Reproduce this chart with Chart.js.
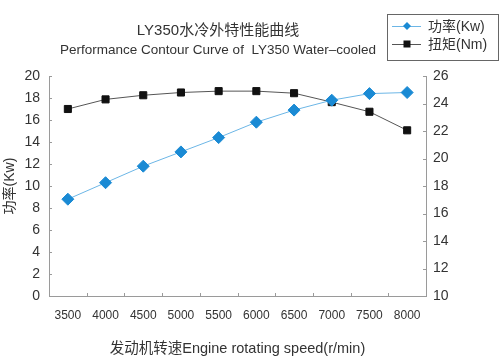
<!DOCTYPE html>
<html><head><meta charset="utf-8">
<script src="https://cdn.jsdelivr.net/npm/chart.js@4.4.1/dist/chart.umd.min.js"></script>
<style>html,body{margin:0;padding:0;background:#fff}canvas{display:block}</style>
</head><body>
<canvas id="c" width="502" height="362"></canvas>
<script>
const categories = ['3500','4000','4500','5000','5500','6000','6500','7000','7500','8000'];
const powerKw = [8.8, 10.3, 11.8, 13.1, 14.4, 15.8, 16.9, 17.8, 18.4, 18.5];
const torqueNm = [23.6, 24.3, 24.6, 24.8, 24.9, 24.9, 24.75, 24.1, 23.4, 22.05];
const titleLines = ['LY350水冷外特性能曲线', 'Performance Contour Curve of  LY350 Water\u2013cooled'];
const seriesNames = ['功率(Kw)', '扭矩(Nm)'];
const xTitle = '发动机转速Engine rotating speed(r/min)';
const yTitle = '功率(Kw)';

const FONT = '"Liberation Sans", Arial, "Noto Sans CJK SC", sans-serif';
const AXIS = '#9a9a9a';
const TXT = '#333';

const deco = {
  id: 'deco',
  afterDraw(chart) {
    const ctx = chart.ctx;
    const ca = chart.chartArea;
    const x = chart.scales.x, y = chart.scales.y, y1 = chart.scales.y1;
    ctx.save();
    // inward tick marks
    ctx.strokeStyle = AXIS; ctx.lineWidth = 1;
    ctx.beginPath();
    y.ticks.forEach(t => { const p = Math.round(y.getPixelForValue(t.value)) + 0.5; ctx.moveTo(ca.left, p); ctx.lineTo(ca.left + 3, p); });
    y1.ticks.forEach(t => { const p = Math.round(y1.getPixelForValue(t.value)) + 0.5; ctx.moveTo(ca.right, p); ctx.lineTo(ca.right - 3, p); });
    for (let i = 1; i < categories.length; i++) {
      const p = Math.round((x.getPixelForValue(i - 1) + x.getPixelForValue(i)) / 2) + 0.5;
      ctx.moveTo(p, ca.bottom); ctx.lineTo(p, ca.bottom - 3);
    }
    ctx.stroke();
    // titles
    ctx.fillStyle = TXT; ctx.textAlign = 'center'; ctx.textBaseline = 'middle';
    ctx.font = '15px ' + FONT;
    ctx.fillText(titleLines[0], 218, 31);
    ctx.font = '13.5px ' + FONT;
    ctx.fillText(titleLines[1], 218, 50);
    // legend box
    ctx.strokeStyle = '#666'; ctx.lineWidth = 1;
    ctx.strokeRect(387.5, 14.5, 111, 46);
    chart.data.datasets.forEach((ds, i) => {
      const cy = 26 + i * 18;
      ctx.strokeStyle = ds.borderColor; ctx.lineWidth = 1;
      ctx.beginPath(); ctx.moveTo(392, cy + 0.5); ctx.lineTo(421, cy + 0.5); ctx.stroke();
      ctx.fillStyle = ds.pointBackgroundColor;
      if (ds.pointStyle === 'rectRot') {
        ctx.beginPath(); ctx.moveTo(407, cy - 4); ctx.lineTo(411, cy); ctx.lineTo(407, cy + 4); ctx.lineTo(403, cy); ctx.closePath(); ctx.fill();
      } else {
        ctx.fillRect(403.5, cy - 3.5, 7, 7);
      }
      ctx.fillStyle = TXT; ctx.textAlign = 'left';
      ctx.font = '14px ' + FONT;
      ctx.fillText(ds.label, 428, cy + 1);
    });
    ctx.restore();
  }
};

new Chart(document.getElementById('c'), {
  type: 'line',
  data: {
    labels: categories,
    datasets: [
      { label: seriesNames[0], data: powerKw, yAxisID: 'y', borderColor: '#6cb6e6', borderWidth: 1,
        pointStyle: 'rectRot', pointRadius: 6, pointBackgroundColor: '#1a8ad4', pointBorderColor: '#1a8ad4', tension: 0 },
      { label: seriesNames[1], data: torqueNm, yAxisID: 'y1', borderColor: '#555', borderWidth: 1,
        pointStyle: 'rect', pointRadius: 5, pointBackgroundColor: '#111', pointBorderColor: '#111', tension: 0 }
    ]
  },
  options: {
    responsive: false, animation: false, devicePixelRatio: 1,
    layout: { padding: { top: 76, left: 0, right: 0, bottom: 0 } },
    plugins: { legend: { display: false }, title: { display: false }, tooltip: { enabled: false } },
    scales: {
      x: {
        type: 'category', offset: true,
        grid: { display: false, drawTicks: false },
        border: { display: true, color: AXIS },
        ticks: { color: TXT, font: { family: FONT, size: 12 }, padding: 12, maxRotation: 0, autoSkip: false },
        title: { display: true, text: xTitle, color: TXT, font: { family: FONT, size: 14.5 }, padding: { top: 4, bottom: 4 } },
        afterFit(s) { s.height = 66; }
      },
      y: {
        position: 'left', min: 0, max: 20,
        grid: { display: false, drawTicks: false },
        border: { display: true, color: AXIS },
        ticks: { stepSize: 2, color: TXT, font: { family: FONT, size: 14 }, padding: 9 },
        title: { display: true, text: yTitle, color: TXT, font: { family: FONT, size: 14 }, padding: { top: 2, bottom: 0 } },
        afterFit(s) { s.width = 49; }
      },
      y1: {
        position: 'right', min: 10, max: 26,
        grid: { display: false, drawTicks: false },
        border: { display: true, color: AXIS },
        ticks: { stepSize: 2, color: TXT, font: { family: FONT, size: 14 }, padding: 7 },
        afterFit(s) { s.width = 76; }
      }
    }
  },
  plugins: [deco]
});
</script>
</body></html>
